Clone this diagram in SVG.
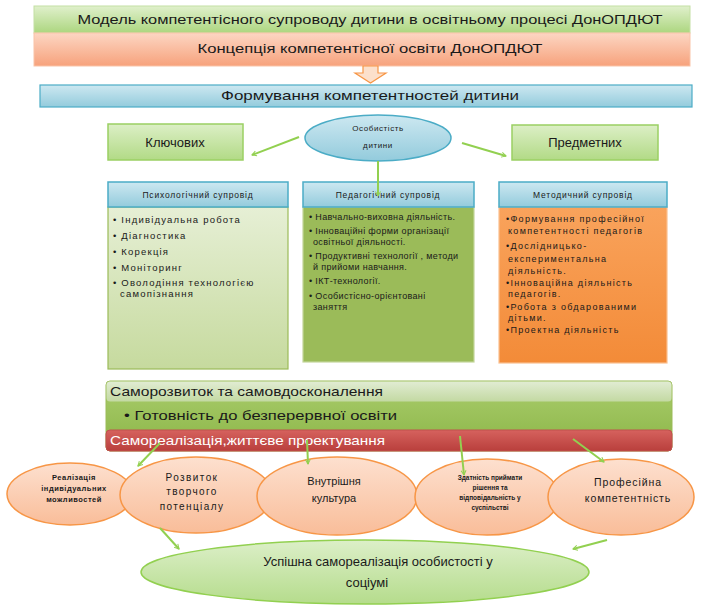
<svg xmlns="http://www.w3.org/2000/svg" width="721" height="607" viewBox="0 0 721 607">
<defs>
<linearGradient id="gGreen" x1="0" y1="0" x2="0" y2="1"><stop offset="0" stop-color="#e0f0cc"/><stop offset="1" stop-color="#acd67f"/></linearGradient>
<linearGradient id="gOrange" x1="0" y1="0" x2="0" y2="1"><stop offset="0" stop-color="#fcd6c3"/><stop offset="1" stop-color="#f7a27c"/></linearGradient>
<linearGradient id="gBlue" x1="0" y1="0" x2="0" y2="1"><stop offset="0" stop-color="#cde8f1"/><stop offset="1" stop-color="#93cbdc"/></linearGradient>
<linearGradient id="gBox" x1="0" y1="0" x2="0" y2="1"><stop offset="0" stop-color="#dcefc6"/><stop offset="1" stop-color="#b2da86"/></linearGradient>
<linearGradient id="gCol1" x1="0" y1="0" x2="0" y2="1"><stop offset="0" stop-color="#e6efd5"/><stop offset="1" stop-color="#c6da9e"/></linearGradient>
<linearGradient id="gCol3" x1="0" y1="0" x2="0" y2="1"><stop offset="0" stop-color="#f9a35c"/><stop offset="1" stop-color="#f38b38"/></linearGradient>
<linearGradient id="gB1" x1="0" y1="0" x2="0" y2="1"><stop offset="0" stop-color="#e1ecd3"/><stop offset="1" stop-color="#c3d9a2"/></linearGradient>
<linearGradient id="gB2" x1="0" y1="0" x2="0" y2="1"><stop offset="0" stop-color="#aacd6c"/><stop offset="1" stop-color="#8bb547"/></linearGradient>
<linearGradient id="gB3" x1="0" y1="0" x2="0" y2="1"><stop offset="0" stop-color="#d6625e"/><stop offset="1" stop-color="#b93f3c"/></linearGradient>
<linearGradient id="gPeach" x1="0" y1="0" x2="0" y2="1"><stop offset="0" stop-color="#fde0cf"/><stop offset="1" stop-color="#f9bd99"/></linearGradient>
<linearGradient id="gBig" x1="0" y1="0" x2="0" y2="1"><stop offset="0" stop-color="#dcefc8"/><stop offset="1" stop-color="#b5dc8c"/></linearGradient>
<marker id="ah" viewBox="0 0 10 10" refX="9" refY="5" markerWidth="5" markerHeight="5" orient="auto" markerUnits="userSpaceOnUse" style="overflow:visible">
<path d="M0,0 L9,5 L0,10" fill="none" stroke="#92d050" stroke-width="2"/>
</marker>
</defs>
<style>
text{font-family:"Liberation Sans",Arial,sans-serif;fill:#1a1a1a}
.t13{font-size:13px}
.hdr{font-size:8.5px;text-anchor:middle;letter-spacing:0.8px}
.i1{font-size:9.5px;letter-spacing:1.2px}
.i2{font-size:9px;letter-spacing:0.35px}
.i3{font-size:9px;letter-spacing:1.3px}
.mid{text-anchor:middle}
.conn{stroke:#92d050;stroke-width:2;fill:none;marker-end:url(#ah)}
.peach{fill:url(#gPeach);stroke:#f79646;stroke-width:1.5}
.colh{fill:url(#gBlue);stroke:#4bacc6;stroke-width:1.5}
</style>
<rect width="721" height="607" fill="#ffffff"/>

<g id="model">
<rect x="34" y="6" width="656" height="27" fill="url(#gGreen)" stroke="#c4e0a4" stroke-width="1"/>
<text class="t13 mid" x="370" y="24" textLength="585" lengthAdjust="spacingAndGlyphs">Модель  компетентісного супроводу дитини  в освітньому процесі  ДонОПДЮТ</text>
</g>
<g id="concept">
<rect x="34" y="33" width="656" height="33" fill="url(#gOrange)" stroke="#f9c3a8" stroke-width="1"/>
<text class="t13 mid" x="370" y="53" textLength="345" lengthAdjust="spacingAndGlyphs">Концепція компетентісної освіти   ДонОПДЮТ</text>
</g>
<g id="downArrow">
<path d="M363,66 L378,66 L378,73 L386,73 L370.5,83 L355,73 L363,73 Z" fill="#fce0cc" stroke="#f79646" stroke-width="1.2"/>
</g>
<g id="formation">
<rect x="40" y="85" width="652" height="22" fill="url(#gBlue)" stroke="#4bacc6" stroke-width="1.2"/>
<text class="t13 mid" x="370" y="100" textLength="298" lengthAdjust="spacingAndGlyphs">Формування компетентностей дитини</text>
</g>

<g id="key">
<rect x="108" y="124" width="135" height="36" fill="url(#gBox)" stroke="#9bd063" stroke-width="1.5"/>
<text class="t13 mid" x="175" y="147">Ключових</text>
</g>
<g id="personality">
<ellipse cx="378" cy="138" rx="73" ry="23" fill="url(#gBlue)" stroke="#4bacc6" stroke-width="1.5"/>
<text class="mid" x="378" y="131" style="font-size:8px;letter-spacing:0.6px">Особистість</text>
<text class="mid" x="378" y="148" style="font-size:8px;letter-spacing:0.6px">дитини</text>
</g>
<g id="subject">
<rect x="512" y="125" width="146" height="35" fill="url(#gBox)" stroke="#9bd063" stroke-width="1.5"/>
<text class="t13 mid" x="585" y="147">Предметних</text>
</g>

<g id="psych">
<rect x="108" y="207" width="180" height="162" fill="url(#gCol1)" stroke="#9bbb59" stroke-width="1.2"/>
<rect class="colh" x="108" y="182" width="180" height="25"/>
<text class="hdr" x="198" y="198">Психологічний супровід</text>
<text class="i1" x="113" y="223">• Індивідуальна робота</text>
<text class="i1" x="113" y="239">• Діагностика</text>
<text class="i1" x="113" y="255">• Корекція</text>
<text class="i1" x="113" y="271">• Моніторинг</text>
<text class="i1" x="113" y="286">• Оволодіння технологією</text>
<text class="i1" x="120" y="297">самопізнання</text>
</g>
<g id="ped">
<rect x="303" y="207" width="171" height="155" fill="#9bbb59" stroke="#c3d69b" stroke-width="1.2"/>
<rect class="colh" x="303" y="182" width="171" height="25"/>
<text class="hdr" x="388" y="198">Педагогічний  супровід</text>
<text class="i2" x="309" y="220">• Навчально-виховна діяльність.</text>
<text class="i2" x="309" y="234">• Інноваційні  форми організації</text>
<text class="i2" x="313" y="245">освітньої діяльності.</text>
<text class="i2" x="309" y="259">• Продуктивні  технології , методи</text>
<text class="i2" x="313" y="270">й прийоми навчання.</text>
<text class="i2" x="309" y="284">• ІКТ-технології.</text>
<text class="i2" x="309" y="299">• Особистісно-орієнтовані</text>
<text class="i2" x="313" y="310">заняття</text>
</g>
<g id="method">
<rect x="499" y="207" width="168" height="156" fill="url(#gCol3)" stroke="#fac090" stroke-width="1.2"/>
<rect class="colh" x="499" y="182" width="168" height="25"/>
<text class="hdr" x="583" y="198">Методичний супровід</text>
<text class="i3" x="506" y="222">•Формування професійної</text>
<text class="i3" x="508" y="234">компетентності педагогів</text>
<text class="i3" x="506" y="249">•Дослідницько-</text>
<text class="i3" x="508" y="262">експериментальна</text>
<text class="i3" x="508" y="274">діяльність.</text>
<text class="i3" x="506" y="286">•Інноваційна діяльність</text>
<text class="i3" x="508" y="297">педагогів.</text>
<text class="i3" x="506" y="310">•Робота з обдарованими</text>
<text class="i3" x="508" y="321">дітьми.</text>
<text class="i3" x="506" y="333">•Проектна діяльність</text>
</g>

<g id="selfdev">
<rect x="106" y="381" width="566" height="70" rx="4" fill="url(#gB2)" stroke="#9bbb59" stroke-width="1"/>
<rect x="106.5" y="381.5" width="565" height="20" rx="3.5" fill="url(#gB1)"/>
<text class="t13" x="110" y="396" textLength="273" lengthAdjust="spacingAndGlyphs">Саморозвиток та  самовдосконалення</text>
<text class="t13" x="124" y="420" textLength="273" lengthAdjust="spacingAndGlyphs">• Готовність до безперервної освіти</text>
</g>
<g id="selfreal">
<rect x="106" y="430" width="566" height="21" rx="4" fill="url(#gB3)" stroke="#c0504d" stroke-width="1"/>
<text class="t13" x="110" y="445" style="fill:#ffffff" textLength="275" lengthAdjust="spacingAndGlyphs">Самореалізація,життєве  проектування</text>
</g>

<g id="e1">
<ellipse class="peach" cx="70" cy="494" rx="63" ry="31"/>
<text class="mid" x="74" y="480" style="font-size:7.5px;font-weight:bold;letter-spacing:0.5px">Реалізація</text>
<text class="mid" x="74" y="491" style="font-size:7.5px;font-weight:bold;letter-spacing:0.5px">індивідуальних</text>
<text class="mid" x="74" y="502" style="font-size:7.5px;font-weight:bold;letter-spacing:0.5px">можливостей</text>
</g>
<g id="e2">
<ellipse class="peach" cx="196" cy="495" rx="76" ry="38"/>
<text class="mid" x="192" y="481" style="font-size:10px;letter-spacing:1.4px">Розвиток</text>
<text class="mid" x="192" y="495" style="font-size:10px;letter-spacing:1.4px">творчого</text>
<text class="mid" x="192" y="510" style="font-size:10px;letter-spacing:1.4px">потенціалу</text>
</g>
<g id="e3">
<ellipse class="peach" cx="337" cy="496" rx="80" ry="39"/>
<text class="mid" x="334" y="485" style="font-size:11px">Внутрішня</text>
<text class="mid" x="334" y="502" style="font-size:11px">культура</text>
</g>
<g id="e4">
<ellipse class="peach" cx="487" cy="497" rx="72" ry="38"/>
<text class="mid" x="490" y="480" style="font-size:6.5px;font-weight:bold">Здатність приймати</text>
<text class="mid" x="490" y="490" style="font-size:6.5px;font-weight:bold">рішення та</text>
<text class="mid" x="490" y="500" style="font-size:6.5px;font-weight:bold">відповідальність у</text>
<text class="mid" x="490" y="510" style="font-size:6.5px;font-weight:bold">суспільстві</text>
</g>
<g id="e5">
<ellipse class="peach" cx="621" cy="497" rx="73" ry="38"/>
<text class="mid" x="628" y="486" style="font-size:10.5px;letter-spacing:0.9px">Професійна</text>
<text class="mid" x="628" y="502" style="font-size:10.5px;letter-spacing:0.9px">компетентність</text>
</g>
<g id="success">
<ellipse cx="365" cy="572" rx="224" ry="32" fill="url(#gBig)" stroke="#92d050" stroke-width="1.5"/>
<text class="t13 mid" x="378" y="566">Успішна самореалізація особистості у</text>
<text class="t13 mid" x="367" y="587">соціумі</text>
</g>

<g id="connectors">
<line class="conn" x1="299" y1="137" x2="252" y2="155"/>
<line class="conn" x1="462" y1="143" x2="506" y2="156"/>
<line class="conn" x1="378" y1="161" x2="378" y2="196"/>
<line class="conn" x1="160" y1="443" x2="138" y2="466"/>
<line class="conn" x1="307" y1="440" x2="308" y2="464"/>
<line class="conn" x1="460" y1="436" x2="464" y2="475"/>
<line class="conn" x1="573" y1="439" x2="604" y2="462"/>
<line class="conn" x1="160" y1="528" x2="179" y2="549"/>
<line class="conn" x1="607" y1="540" x2="573" y2="549"/>
</g>
</svg>
